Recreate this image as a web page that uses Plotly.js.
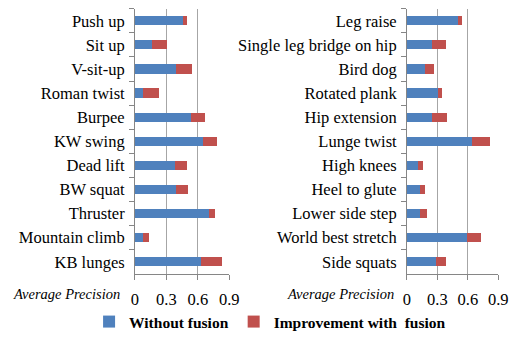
<!DOCTYPE html>
<html>
<head>
<meta charset="utf-8">
<script src="https://cdn.plot.ly/plotly-3.0.1.min.js"></script>
<style>html,body{margin:0;padding:0;background:#fff;}#chart{width:509px;height:339px;}</style>
</head>
<body>
<div id="chart"></div>
<script>
const leftCats = ["Push up","Sit up","V-sit-up","Roman twist","Burpee","KW swing","Dead lift","BW squat","Thruster","Mountain climb","KB lunges"];
const leftBase = [0.46,0.16,0.39,0.08,0.535,0.65,0.38,0.39,0.71,0.08,0.635];
const leftImp  = [0.04,0.15,0.15,0.15,0.135,0.13,0.12,0.115,0.05,0.05,0.195];

const rightCats = ["Leg raise","Single leg bridge on hip","Bird dog","Rotated plank","Hip extension","Lunge twist","High knees","Heel to glute","Lower side step","World best stretch","Side squats"];
const rightBase = [0.50,0.245,0.18,0.31,0.245,0.645,0.11,0.13,0.13,0.59,0.285];
const rightImp  = [0.04,0.14,0.085,0.04,0.15,0.17,0.045,0.045,0.065,0.135,0.10];

const seriesNames = ["Without fusion","Improvement with  fusion"];
const xTicks = [0,0.3,0.6,0.9];
const xTickText = ["0","0.3","0.6","0.9"];
const axisTitle = "Average Precision";

const BLUE = "#4F81BD", RED = "#C0504D";
const SERIF = "'Liberation Serif', 'Times New Roman', Tinos, 'DejaVu Serif', 'Noto Serif', serif";

const traces = [
  {type:"bar", orientation:"h", y:leftCats, x:leftBase, name:seriesNames[0], marker:{color:BLUE}, xaxis:"x", yaxis:"y", legendgroup:"a", hoverinfo:"x+y"},
  {type:"bar", orientation:"h", y:leftCats, x:leftImp, name:seriesNames[1], marker:{color:RED}, xaxis:"x", yaxis:"y", legendgroup:"b", hoverinfo:"x+y"},
  {type:"bar", orientation:"h", y:rightCats, x:rightBase, name:seriesNames[0], marker:{color:BLUE}, xaxis:"x2", yaxis:"y2", legendgroup:"a", showlegend:false, hoverinfo:"x+y"},
  {type:"bar", orientation:"h", y:rightCats, x:rightImp, name:seriesNames[1], marker:{color:RED}, xaxis:"x2", yaxis:"y2", legendgroup:"b", showlegend:false, hoverinfo:"x+y"}
];

const xax = (dom, anchor) => ({
  domain: dom, anchor: anchor, range:[0,0.9005], fixedrange:true,
  tickvals: xTicks, ticktext: xTickText, ticks:"outside", ticklen:5, tickcolor:"#868686",
  showline:true, linecolor:"#868686", linewidth:1,
  showgrid:true, gridcolor:"#a6a6a6", gridwidth:1, zeroline:false,
  ticklabelstandoff:5,
  tickfont:{family:SERIF, size:16.5, color:"#000"}
});
const yax = (cats, anchor) => ({
  domain:[0.18,0.974], anchor: anchor, type:"category",
  categoryorder:"array", categoryarray:cats, autorange:"reversed", fixedrange:true,
  ticks:"outside", tickson:"boundaries", ticklen:5, tickcolor:"#868686",
  showline:true, linecolor:"#868686", linewidth:1, showgrid:false, zeroline:false,
  ticklabelstandoff:6,
  tickfont:{family:SERIF, size:16.5, color:"#000"}
});

const layout = {
  width:509, height:339,
  margin:{l:0,r:0,t:0,b:0},
  paper_bgcolor:"#fff", plot_bgcolor:"#fff",
  font:{family:SERIF},
  barmode:"stack", bargap:0.62,
  showlegend:true,
  legend:{orientation:"h", x:0.175, xanchor:"left", y:0.035, yanchor:"middle",
          font:{family:SERIF, size:15.5, color:"#000", weight:700},
          itemwidth:30, traceorder:"normal"},
  xaxis: xax([0.2652,0.4505],"y"),
  yaxis: yax(leftCats,"x"),
  xaxis2: xax([0.7996,0.979],"y2"),
  yaxis2: yax(rightCats,"x2"),
  annotations:[
    {text:axisTitle, xref:"paper", yref:"paper", x:122/509, y:(339-298)/339, xanchor:"right", yanchor:"middle", showarrow:false,
     font:{family:SERIF, size:14.5, color:"#000", style:"italic"}},
    {text:axisTitle, xref:"paper", yref:"paper", x:396/509, y:(339-298)/339, xanchor:"right", yanchor:"middle", showarrow:false,
     font:{family:SERIF, size:14.5, color:"#000", style:"italic"}}
  ]
};

Plotly.newPlot("chart", traces, layout, {displayModeBar:false});
</script>
</body>
</html>
